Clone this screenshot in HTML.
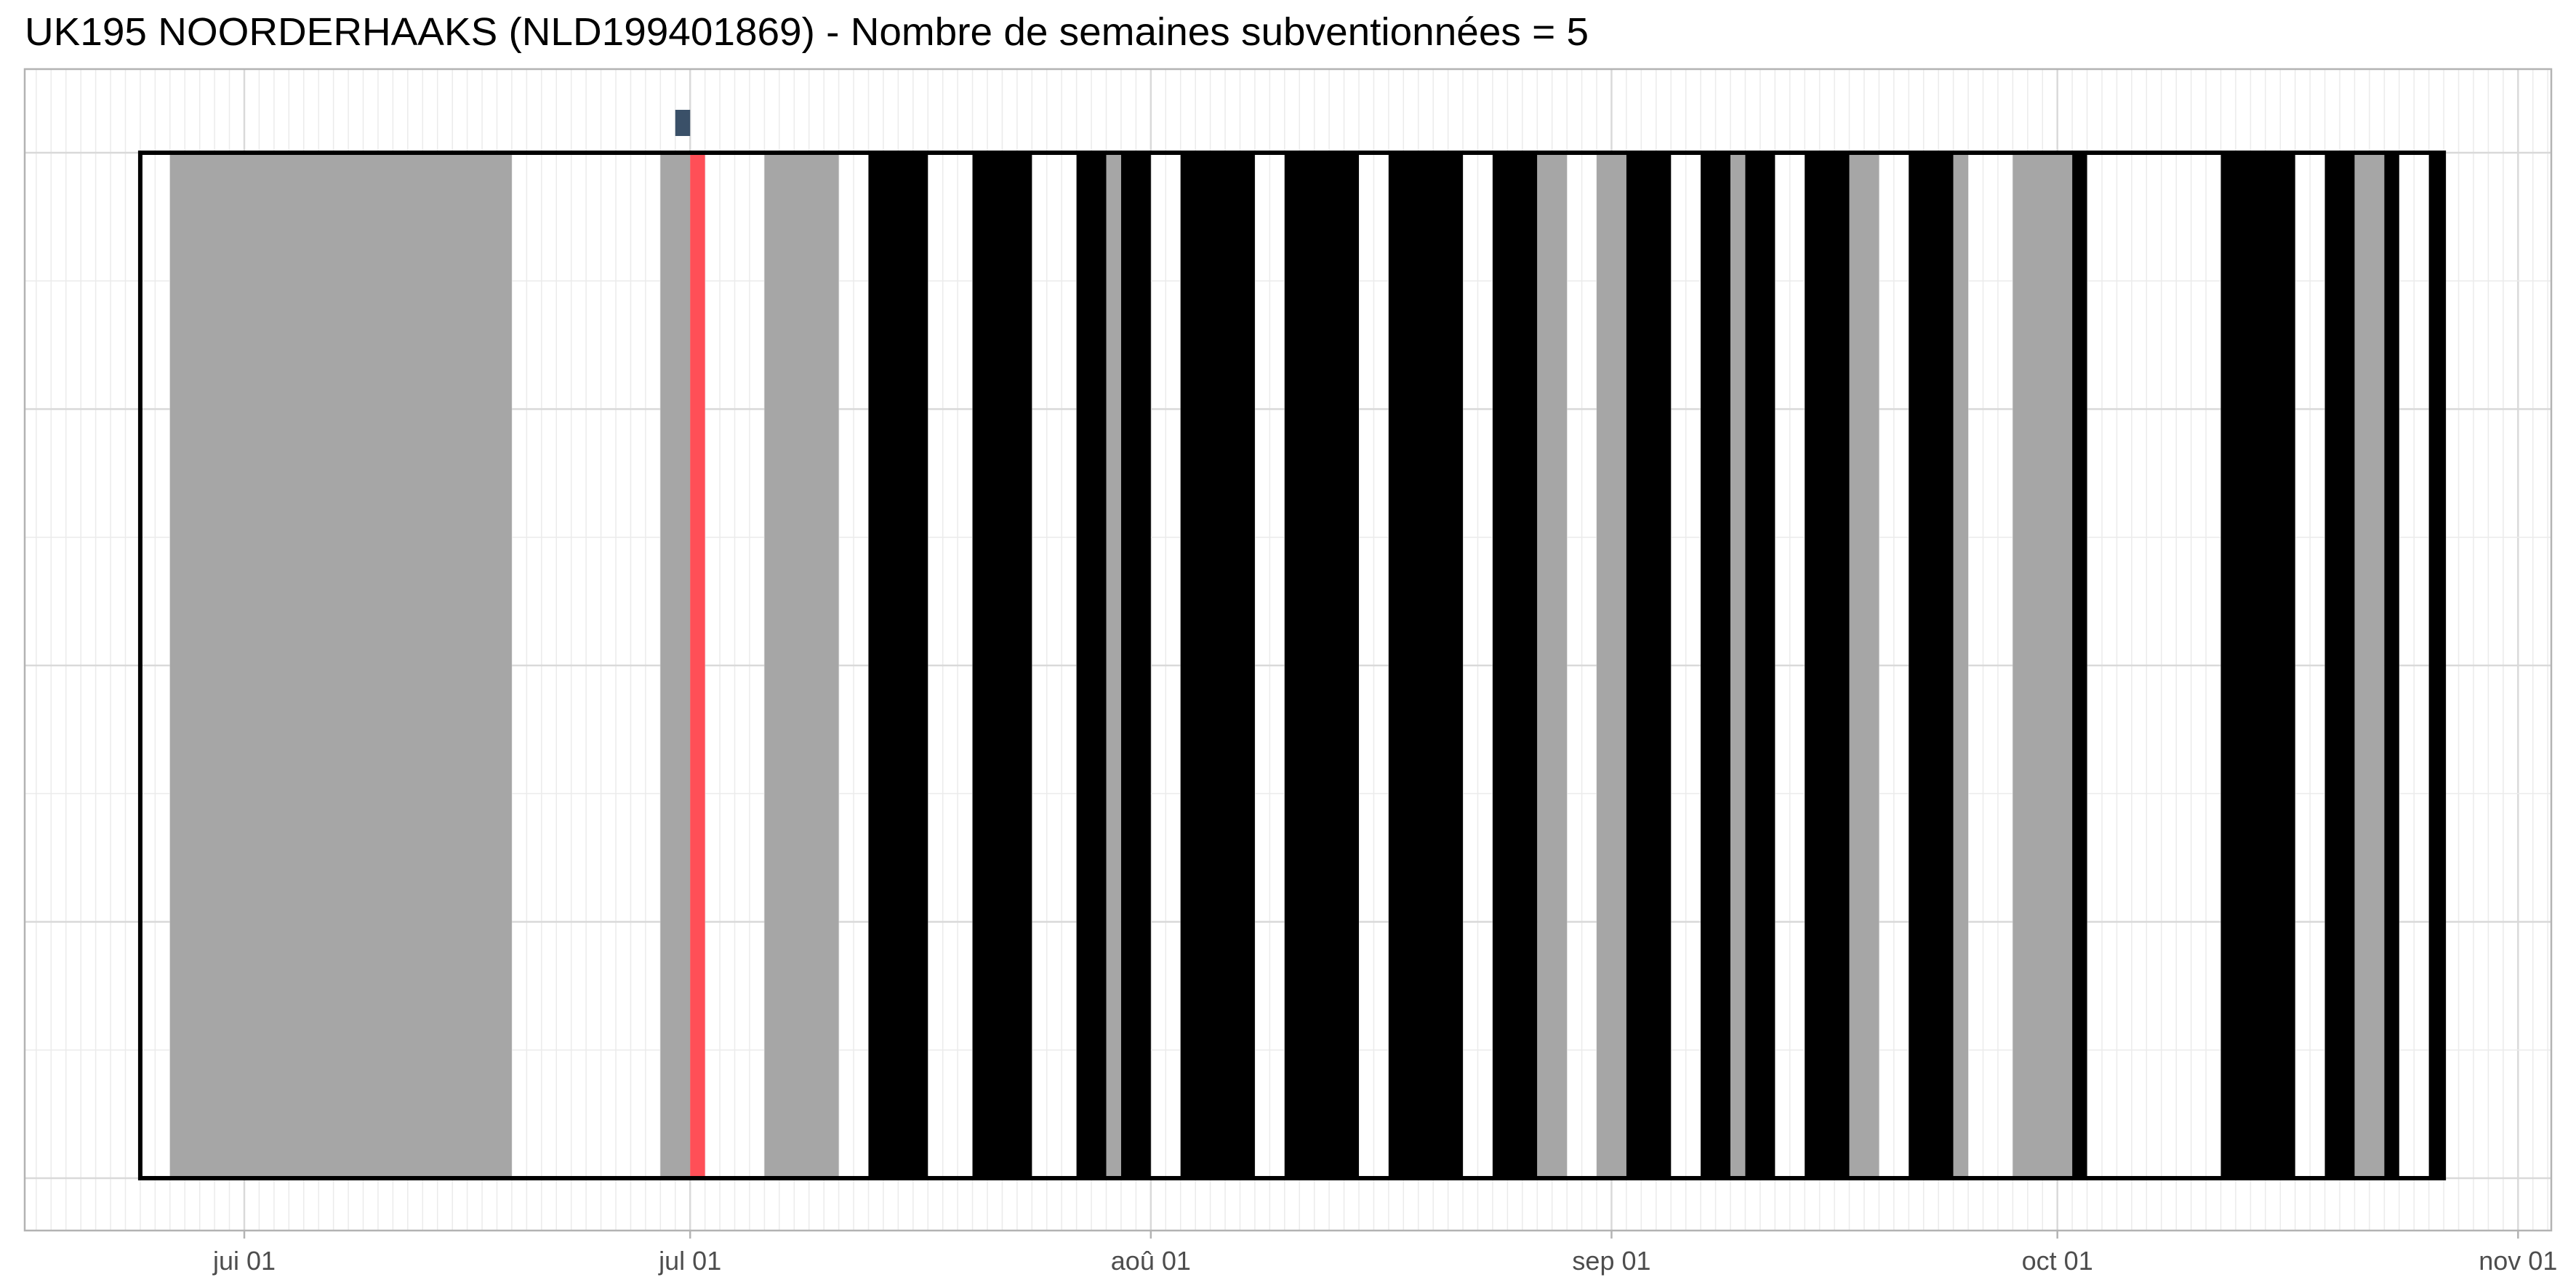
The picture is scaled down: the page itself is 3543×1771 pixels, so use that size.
<!DOCTYPE html>
<html><head><meta charset="utf-8"><style>
html,body{margin:0;padding:0;background:#fff;}
svg{display:block;font-family:"Liberation Sans",sans-serif;}
</style></head><body>
<svg id="chart" width="3543" height="1771" viewBox="0 0 3543 1771" xmlns="http://www.w3.org/2000/svg">
<rect x="0" y="0" width="3543" height="1771" fill="#fff"/>
<text x="34" y="62" font-size="54" fill="#000" textLength="2151" lengthAdjust="spacingAndGlyphs">UK195 NOORDERHAAKS (NLD199401869) - Nombre de semaines subventionnées = 5</text>
<g id="grid"></g>
<g id="bars"></g>
<g id="frame"></g>
<g id="axis"></g>
</svg>
<script>
// day offsets from 1 June; status per contiguous run
const runStart = [-7,-5,18,28,30,31,35,40,42,46,49,53,56,58,59,61,63,68,70,75,77,82,84,87,89,91,93,96,98,100,101,103,105,108,110,112,115,116,119,123,124,133,138,140,142,144,145,147];
const runEnd   = [-5,18,28,30,31,35,40,42,46,49,53,56,58,59,61,63,68,70,75,77,82,84,87,89,91,93,96,98,100,101,103,105,108,110,112,115,116,119,123,124,133,138,140,142,144,145,147,148];
const runStatus= ["w","g","w","g","r","w","g","w","b","w","b","w","b","g","b","w","b","w","b","w","b","w","b","g","w","g","b","w","b","g","b","w","b","g","w","b","g","w","g","b","w","b","w","b","g","b","w","b"];
const tickDays = [0,30,61,92,122,153];
const tickLabels = ["jui 01","jul 01","aoû 01","sep 01","oct 01","nov 01"];
const markerDay = [29];
const boxRange = [-7,148];

const NS="http://www.w3.org/2000/svg";
const X0=336, PX=20.44;
const x = d => X0 + d*PX;
const PL=34, PR=3509, PT=95, PB=1692, YT=210, YB=1620;
const colors={w:"#ffffff",g:"#a6a6a6",b:"#000000",r:"#ff4f57"};
function mk(tag,attrs,parent){const e=document.createElementNS(NS,tag);for(const k in attrs)e.setAttribute(k,attrs[k]);parent.appendChild(e);return e;}
const grid=document.getElementById('grid'), bars=document.getElementById('bars'), frame=document.getElementById('frame'), axis=document.getElementById('axis');

for(let d=-14; d<=156; d++){
  const xx=x(d); if(xx<=PL||xx>=PR) continue;
  const major=tickDays.includes(d);
  const l=mk('line',{x1:xx,x2:xx,y1:PT,y2:PB,stroke:major?"#d9d9d9":"#ebebeb","stroke-width":major?2.5:1.5},grid);
  
  
}
for(let i=0;i<9;i++){
  const yy=YT+i*(YB-YT)/8;
  const l=mk('line',{x1:PL,x2:PR,y1:yy,y2:yy,stroke:i%2?"#ebebeb":"#d9d9d9","stroke-width":i%2?1.5:2.5},grid);
  
  
}
for(let i=0;i<runStart.length;i++){
  if(runStatus[i]==="w") continue;
  const r=mk('rect',{x:x(runStart[i]),y:YT,width:x(runEnd[i])-x(runStart[i]),height:YB-YT,fill:colors[runStatus[i]]},bars);
  
  
}
markerDay.forEach(d=>{
  const m=mk('rect',{x:x(d),y:151,width:PX,height:36,fill:"#3a5068"},bars);
  
  
});
const bx=mk('rect',{x:x(boxRange[0]),y:YT,width:x(boxRange[1])-x(boxRange[0]),height:YB-YT,fill:"none",stroke:"#000","stroke-width":6},frame);


const pb=mk('rect',{x:PL,y:PT,width:PR-PL,height:PB-PT,fill:"none",stroke:"#b3b3b3","stroke-width":2.5},frame);


tickDays.forEach((d,i)=>{
  const t=mk('line',{x1:x(d),x2:x(d),y1:PB,y2:PB+11,stroke:"#b3b3b3","stroke-width":2.5},axis);
  
  
  const tx=mk('text',{x:x(d),y:1746,"font-size":36,fill:"#4d4d4d","text-anchor":"middle"},axis);
  tx.textContent=tickLabels[i];
  
  
});
</script>
</body></html>
